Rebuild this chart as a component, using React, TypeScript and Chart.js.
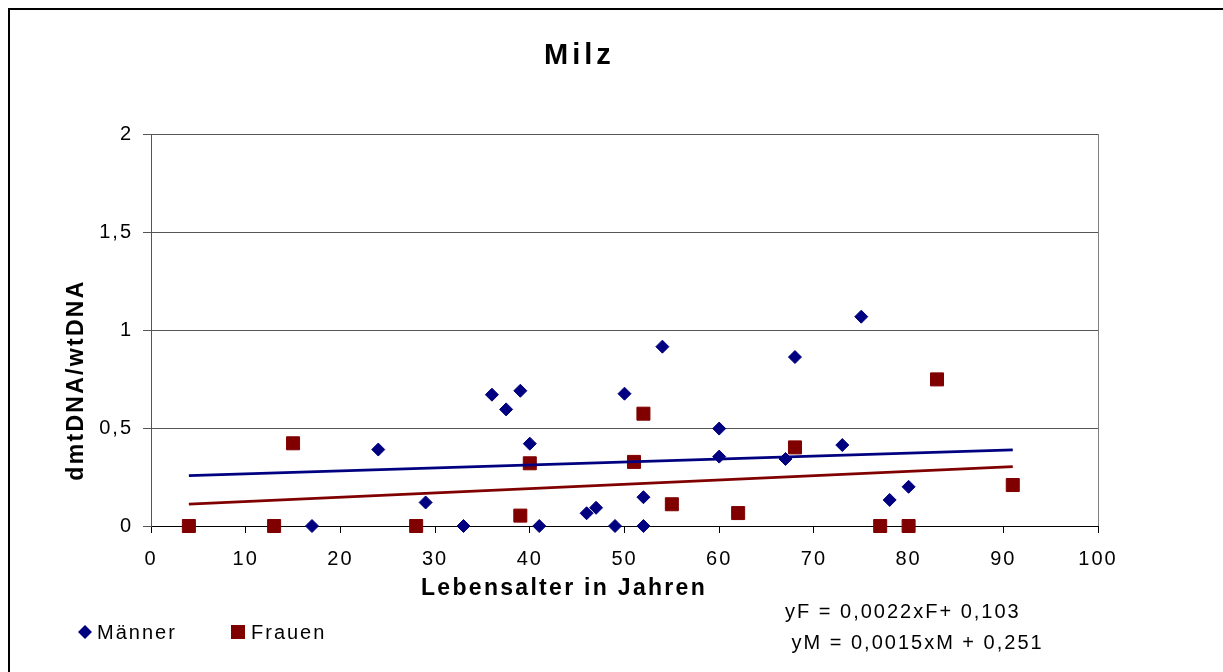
import React, { useEffect, useRef } from 'react';
import { Chart, registerables } from 'chart.js';

Chart.register(...registerables);

// ---- data ----
const chartTitle = 'Milz';
const xAxisTitle = 'Lebensalter in Jahren';
const yAxisTitle = 'dmtDNA/wtDNA';
const seriesNames = ['Männer', 'Frauen'];
const equationLines = ['yF = 0,0022xF+ 0,103', 'yM = 0,0015xM + 0,251'];

const menAge = [17, 24, 29, 33, 36, 37.5, 39, 40, 41, 46, 47, 49, 50, 52, 52, 54, 60, 60, 67, 68, 73, 75, 78, 80];
const menRatio = [0, 0.39, 0.12, 0, 0.67, 0.595, 0.69, 0.42, 0, 0.065, 0.093, 0, 0.675, 0.147, 0, 0.915, 0.497, 0.354, 0.342, 0.862, 0.413, 1.068, 0.133, 0.2];

const womenAge = [4, 13, 15, 28, 39, 40, 51, 52, 55, 62, 68, 77, 80, 83, 91];
const womenRatio = [0, 0, 0.422, 0, 0.053, 0.32, 0.327, 0.573, 0.111, 0.066, 0.401, 0, 0, 0.748, 0.209];

const trendAge = [4, 91];
const menTrend = [0.257, 0.388];
const womenTrend = [0.112, 0.303];

const xTickValues = [0, 10, 20, 30, 40, 50, 60, 70, 80, 90, 100];
const xTickLabels = ['0', '10', '20', '30', '40', '50', '60', '70', '80', '90', '100'];
const yTickValues = [0, 0.5, 1, 1.5, 2];
const yTickLabels = ['0', '0,5', '1', '1,5', '2'];

// ---- styling ----
const W = 1215;
const H = 664;
const FONT = '"Liberation Sans", Arial, Helvetica, sans-serif';
const NAVY = '#000080';
const MAROON = '#800000';

const toPoints = (xs: number[], ys: number[]) => xs.map((x, i) => ({ x, y: ys[i] }));

const decorPlugin = {
  id: 'decor',
  beforeDraw(chart: any) {
    const ctx = chart.ctx as CanvasRenderingContext2D;
    ctx.save();
    ctx.fillStyle = '#ffffff';
    ctx.fillRect(0, 0, W, H);
    ctx.fillStyle = '#000000';
    ctx.fillRect(0, 0, 2, H);
    ctx.fillRect(0, 0, W, 2);
    ctx.restore();
    (ctx as any).letterSpacing = '2px';
  },
  beforeDatasetsDraw(chart: any) {
    const ctx = chart.ctx as CanvasRenderingContext2D;
    const a = chart.chartArea;
    ctx.save();
    ctx.strokeStyle = '#808080';
    ctx.lineWidth = 1;
    ctx.beginPath();
    ctx.moveTo(Math.round(a.right) + 0.5, a.top);
    ctx.lineTo(Math.round(a.right) + 0.5, a.bottom);
    ctx.stroke();
    ctx.restore();
  },
  afterDraw(chart: any) {
    const ctx = chart.ctx as CanvasRenderingContext2D;
    ctx.save();
    ctx.fillStyle = '#000';
    ctx.textAlign = 'left';
    ctx.textBaseline = 'alphabetic';

    // title
    (ctx as any).letterSpacing = '4px';
    ctx.font = `bold 29px ${FONT}`;
    ctx.fillText(chartTitle, 536, 56);

    // x axis title
    (ctx as any).letterSpacing = '2.3px';
    ctx.font = `bold 23px ${FONT}`;
    ctx.fillText(xAxisTitle, 413, 587);

    // y axis title
    ctx.save();
    ctx.translate(75, 372);
    ctx.rotate(-Math.PI / 2);
    ctx.textAlign = 'center';
    ctx.fillText(yAxisTitle, 0, 0);
    ctx.restore();

    // legend
    (ctx as any).letterSpacing = '2px';
    ctx.font = `20px ${FONT}`;
    ctx.fillStyle = NAVY;
    ctx.beginPath();
    ctx.moveTo(77 - 7, 624);
    ctx.lineTo(77, 624 - 7);
    ctx.lineTo(77 + 7, 624);
    ctx.lineTo(77, 624 + 7);
    ctx.closePath();
    ctx.fill();
    ctx.fillStyle = MAROON;
    ctx.fillRect(230 - 7, 624 - 7, 14, 14);
    ctx.fillStyle = '#000';
    ctx.fillText(seriesNames[0], 89, 631);
    ctx.fillText(seriesNames[1], 243, 631);

    // equations
    ctx.fillText(equationLines[0], 777, 610);
    ctx.fillText(equationLines[1], 783.5, 641);
    ctx.restore();
  },
};

export default function App() {
  const canvasRef = useRef<HTMLCanvasElement | null>(null);

  useEffect(() => {
    const canvas = canvasRef.current;
    if (!canvas) return;
    Chart.defaults.font.family = FONT;
    const chart = new Chart(canvas, {
      type: 'scatter',
      data: {
        datasets: [
          {
            label: 'Trend Männer',
            data: toPoints(trendAge, menTrend),
            showLine: true,
            borderColor: NAVY,
            borderWidth: 2.7,
            pointRadius: 0,
            order: 0,
          },
          {
            label: 'Trend Frauen',
            data: toPoints(trendAge, womenTrend),
            showLine: true,
            borderColor: MAROON,
            borderWidth: 2.7,
            pointRadius: 0,
            order: 0,
          },
          {
            label: seriesNames[0],
            data: toPoints(menAge, menRatio),
            pointStyle: 'rectRot',
            pointRadius: 6.5,
            pointBorderWidth: 1,
            backgroundColor: NAVY,
            borderColor: NAVY,
            clip: false as any,
            order: 1,
          },
          {
            label: seriesNames[1],
            data: toPoints(womenAge, womenRatio),
            pointStyle: 'rect',
            pointRadius: 9.2,
            pointBorderWidth: 1,
            backgroundColor: MAROON,
            borderColor: MAROON,
            clip: false as any,
            order: 1,
          },
        ],
      },
      options: {
        animation: false,
        responsive: false,
        layout: { padding: { top: 126, right: 125, bottom: 106, left: 0 } },
        plugins: {
          legend: { display: false },
          title: { display: false },
          tooltip: { enabled: false },
        },
        scales: {
          x: {
            type: 'linear',
            min: 0,
            max: 100,
            afterFit: (s: any) => {
              s.height = 40;
            },
            afterBuildTicks: (s: any) => {
              s.ticks = xTickValues.map((v) => ({ value: v }));
            },
            ticks: {
              padding: 14,
              color: '#000',
              font: { size: 20 },
              maxRotation: 0,
              autoSkip: false,
              callback: (v: any) => {
                const i = xTickValues.indexOf(Number(v));
                return i >= 0 ? xTickLabels[i] : '';
              },
            },
            grid: { drawOnChartArea: false, drawTicks: true, tickLength: 7, color: '#000' },
            border: { color: '#000', width: 1 },
          },
          y: {
            type: 'linear',
            min: 0,
            max: 2,
            afterFit: (s: any) => {
              s.width = 143;
            },
            afterBuildTicks: (s: any) => {
              s.ticks = yTickValues.map((v) => ({ value: v }));
            },
            ticks: {
              padding: 10,
              color: '#000',
              font: { size: 20 },
              autoSkip: false,
              callback: (v: any) => {
                const i = yTickValues.indexOf(Number(v));
                return i >= 0 ? yTickLabels[i] : '';
              },
            },
            grid: { color: '#555', tickLength: 8, drawTicks: true },
            border: { color: '#555', width: 1 },
          },
        },
      },
      plugins: [decorPlugin],
    });
    return () => chart.destroy();
  }, []);

  return (
    <div style={{ position: 'fixed', left: 8, top: 8, width: W, height: H, overflow: 'hidden' }}>
      <canvas
        ref={canvasRef}
        width={W}
        height={H}
        style={{ display: 'block', width: W, height: H }}
      />
    </div>
  );
}
